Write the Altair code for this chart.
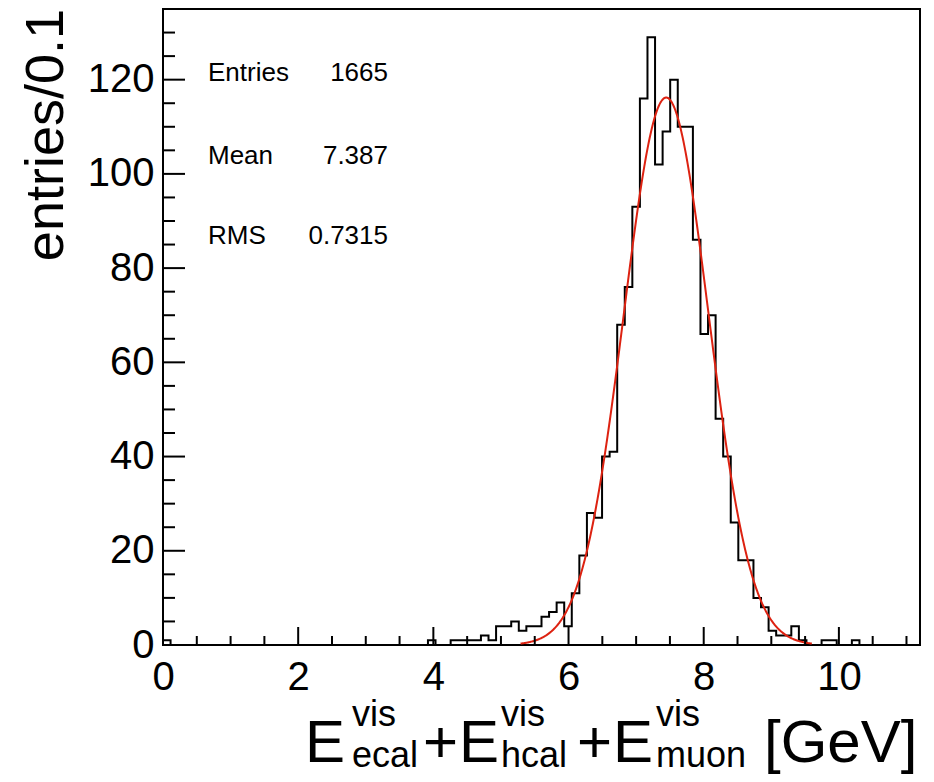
import altair as alt
import pandas as pd

# ---------------- data ----------------
x_min, x_max = 0.0, 11.2
n_bins = 100
counts = [
    1, 0, 0, 0, 0, 0, 0, 0, 0, 0,
    0, 0, 0, 0, 0, 0, 0, 0, 0, 0,
    0, 0, 0, 0, 0, 0, 0, 0, 0, 0,
    0, 0, 0, 0, 0, 1, 0, 0, 1, 1,
    1, 1, 2, 1, 4, 4, 5, 3, 4, 4,
    6, 7, 9, 4, 11, 19, 28, 27, 40, 41,
    68, 76, 93, 116, 129, 102, 109, 120, 110, 110,
    86, 66, 70, 48, 40, 26, 18, 18, 10, 8,
    3, 2, 2, 4, 1, 0, 0, 1, 1, 0,
    0, 1, 0, 0, 0, 0, 0, 0, 0, 0,
]
# Gaussian fit parameters (constant, mean, sigma)
fit_const = 116.2
fit_mean = 7.445
fit_sigma = 0.625

stats_labels = ["Entries", "Mean", "RMS"]
stats_values = ["1665", "7.387", "0.7315"]

x_major = [0, 2, 4, 6, 8, 10]
x_minor = [0.5, 1, 1.5, 2.5, 3, 3.5, 4.5, 5, 5.5, 6.5, 7, 7.5, 8.5, 9, 9.5, 10.5, 11]
y_major = [0, 20, 40, 60, 80, 100, 120]
y_minor = [5, 10, 15, 25, 30, 35, 45, 50, 55, 65, 70, 75, 85, 90, 95, 105, 110, 115, 125, 130, 135]
y_max = 135

# ---------------- build tables ----------------
bw = (x_max - x_min) / n_bins
edges = [x_min + i * bw for i in range(n_bins + 1)]
hist_df = pd.DataFrame({"x": edges, "n": counts + [counts[-1]]})

W, H = 757, 636
FONT = "Liberation Sans"

xscale = alt.Scale(domain=[x_min, x_max], nice=False, zero=False)
yscale = alt.Scale(domain=[0, y_max], nice=False)
xaxis = alt.Axis(values=x_major, title=None, ticks=False, domain=False, grid=False,
                 labelFontSize=40, labelFont=FONT, labelColor="black", labelPadding=12,
                 format="d", labelFlush=False, labelOverlap=False)
yaxis = alt.Axis(values=y_major, title=None, ticks=False, domain=False, grid=False,
                 labelFontSize=40, labelFont=FONT, labelColor="black", labelPadding=9,
                 format="d", labelFlush=False, labelOverlap=False)

hist = alt.Chart(hist_df).mark_line(interpolate="step-after", color="black", strokeWidth=2).encode(
    x=alt.X("x:Q", scale=xscale, axis=xaxis),
    y=alt.Y("n:Q", scale=yscale, axis=yaxis),
)

fit = alt.Chart(alt.sequence(x_min, x_max, 0.01, as_="x")).transform_calculate(
    y=f"{fit_const}*exp(-0.5*pow((datum.x-{fit_mean})/{fit_sigma},2))"
).transform_filter("datum.y > 0.3").mark_line(color="#dd2211", strokeWidth=2).encode(
    x=alt.X("x:Q", scale=xscale, axis=xaxis),
    y=alt.Y("y:Q", scale=yscale, axis=yaxis),
)

def xticks(vals, length):
    return alt.Chart(pd.DataFrame({"v": vals})).mark_rule(color="black", strokeWidth=2).encode(
        x=alt.X("v:Q", scale=xscale, axis=xaxis),
        y=alt.value(H), y2=alt.value(H - length),
    )

def yticks(vals, length):
    return alt.Chart(pd.DataFrame({"v": vals})).mark_rule(color="black", strokeWidth=2).encode(
        y=alt.Y("v:Q", scale=yscale, axis=yaxis),
        x=alt.value(0), x2=alt.value(length),
    )

def txt(s, x, y, size, align="left", baseline="alphabetic", angle=0):
    kw = dict(align=align, baseline=baseline, fontSize=size, font=FONT, color="black")
    if angle:
        kw["angle"] = angle
    return alt.Chart(pd.DataFrame({"t": [s]})).mark_text(**kw).encode(
        text="t:N", x=alt.value(x), y=alt.value(y)
    )

layers = [hist, fit, xticks(x_major, 18), xticks(x_minor, 9), yticks(y_major, 22), yticks(y_minor, 12)]

# stats box text
stat_y = [64, 147, 227]
for lab, val, yy in zip(stats_labels, stats_values, stat_y):
    layers.append(txt(lab, 45, yy, 26, baseline="middle"))
    layers.append(txt(val, 225, yy, 26, align="right", baseline="middle"))

# y title
layers.append(txt("entries/0.1", -116, 0, 54, align="right", baseline="middle", angle=270))

# x title with super/subscripts
big, small = 60, 36
base, sup, sub = 753, 717, 758
layers += [
    txt("E", 142, base, big), txt("vis", 189, sup, small), txt("ecal", 189, sub, small),
    txt("+", 260, base, big),
    txt("E", 296, base, big), txt("vis", 338, sup, small), txt("hcal", 338, sub, small),
    txt("+", 414, base, big),
    txt("E", 450, base, big), txt("vis", 493, sup, small), txt("muon", 493, sub, small),
    txt("[GeV]", 601, base, big),
]

chart = alt.layer(*layers).properties(
    width=W, height=H,
    padding={"left": 155, "top": 1, "right": 6, "bottom": 129},
    autosize=alt.AutoSizeParams(type="none"),
    background="white",
).configure_view(stroke="black", strokeWidth=2)

chart.save("out.html", embed_options={"renderer": "svg", "actions": False})
